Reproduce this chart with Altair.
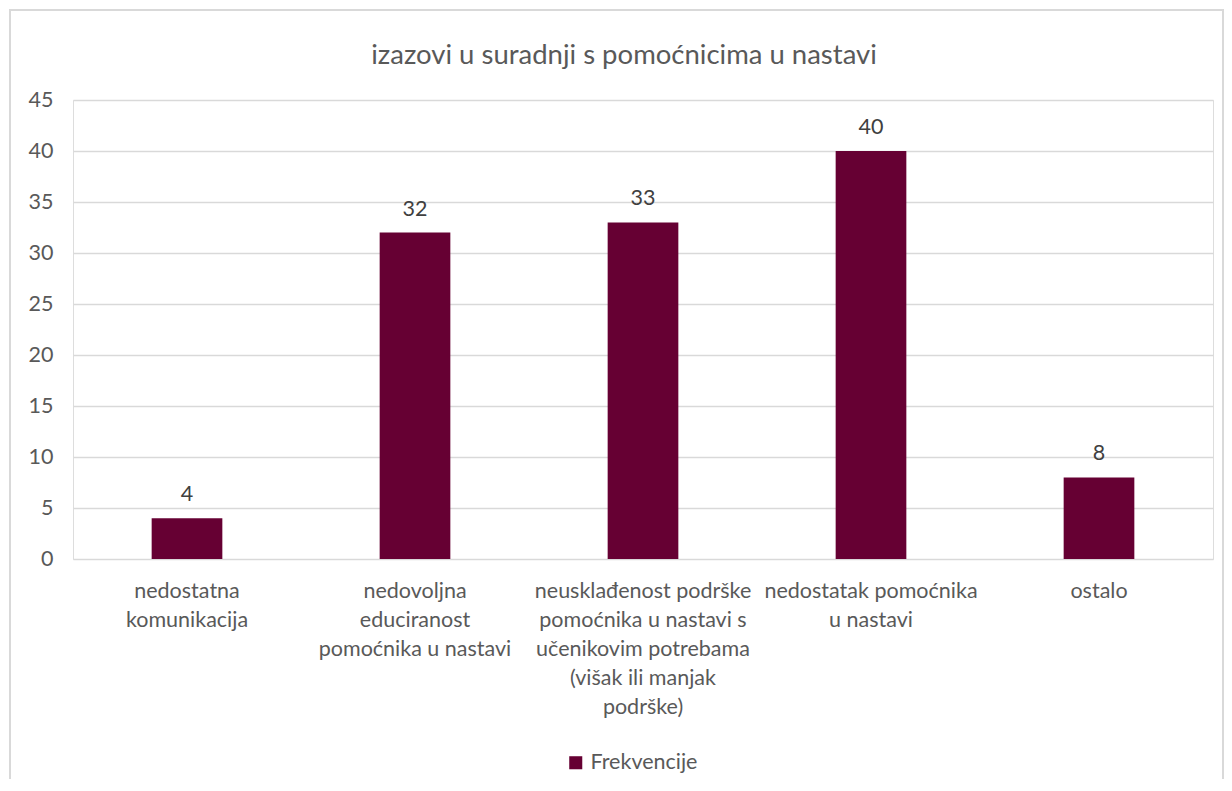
import altair as alt
import pandas as pd

categories = [
    "nedostatna\nkomunikacija",
    "nedovoljna\neduciranost\npomoćnika u nastavi",
    "neusklađenost podrške\npomoćnika u nastavi s\nučenikovim potrebama\n(višak ili manjak\npodrške)",
    "nedostatak pomoćnika\nu nastavi",
    "ostalo",
]
values = [4, 32, 33, 40, 8]
series = ["Frekvencije"] * len(categories)

df = pd.DataFrame({"kategorija": categories, "vrijednost": values, "serija": series})

FONT = "Lato"
GRAY = "#595959"
BAR = "#660033"
FS = 21.5

x_enc = alt.X(
    "kategorija:N",
    sort=categories,
    title=None,
    scale=alt.Scale(paddingInner=0.69, paddingOuter=0.345),
    axis=alt.Axis(
        labelExpr="split(datum.label, '\\n')",
        labelAngle=0,
        labelOverlap=False,
        labelLimit=0,
        labelFontSize=FS,
        labelLineHeight=29,
        labelColor=GRAY,
        labelFont=FONT,
        labelPadding=21,
        labelBaseline="top",
        ticks=False,
        domain=False,
        grid=False,
    ),
)

y_enc = alt.Y(
    "vrijednost:Q",
    title=None,
    scale=alt.Scale(domain=[0, 45], nice=False),
    axis=alt.Axis(
        values=list(range(0, 50, 5)),
        labelFontSize=FS,
        labelColor=GRAY,
        labelFont=FONT,
        labelPadding=20,
        ticks=False,
        domain=False,
        gridColor="#d9d9d9",
        gridWidth=1.5,
    ),
)

bars = alt.Chart(df).mark_bar(color=BAR).encode(
    x=x_enc,
    y=y_enc,
    color=alt.Color(
        "serija:N",
        scale=alt.Scale(range=[BAR]),
        legend=alt.Legend(
            title=None,
            orient="none",
            legendX=492,
            legendY=652,
            symbolType="square",
            symbolSize=170,
            symbolStrokeWidth=0,
            labelFontSize=FS,
            labelColor=GRAY,
            labelFont=FONT,
            labelOffset=4,
        ),
    ),
)

labels = alt.Chart(df).mark_text(
    baseline="bottom", dy=-12, fontSize=FS, color="#404040", font=FONT
).encode(
    x=alt.X("kategorija:N", sort=categories),
    y="vrijednost:Q",
    text="vrijednost:Q",
)

frame = alt.Chart(df).mark_rect(
    fill=None, stroke="#d9d9d9", strokeWidth=1.5, clip=False
).encode(
    x=alt.value(-63), x2=alt.value(1150), y=alt.value(-90), y2=alt.value(720)
)

chart = (
    alt.layer(frame, bars, labels)
    .properties(
        width=1140,
        height=459,
        padding={"left": 65, "top": 92, "right": 11, "bottom": 220},
        autosize=alt.AutoSizeParams(type="none"),
        title=alt.TitleParams(
            "izazovi u suradnji s pomoćnicima u nastavi",
            fontSize=27.5,
            font=FONT,
            fontWeight="normal",
            color=GRAY,
            anchor="middle",
            dx=-19,
            offset=-60,
        ),
    )
    .configure_view(stroke=None)
    .configure(background="white")
)

chart.save("out.html", embed_options={"renderer": "svg", "actions": False})
